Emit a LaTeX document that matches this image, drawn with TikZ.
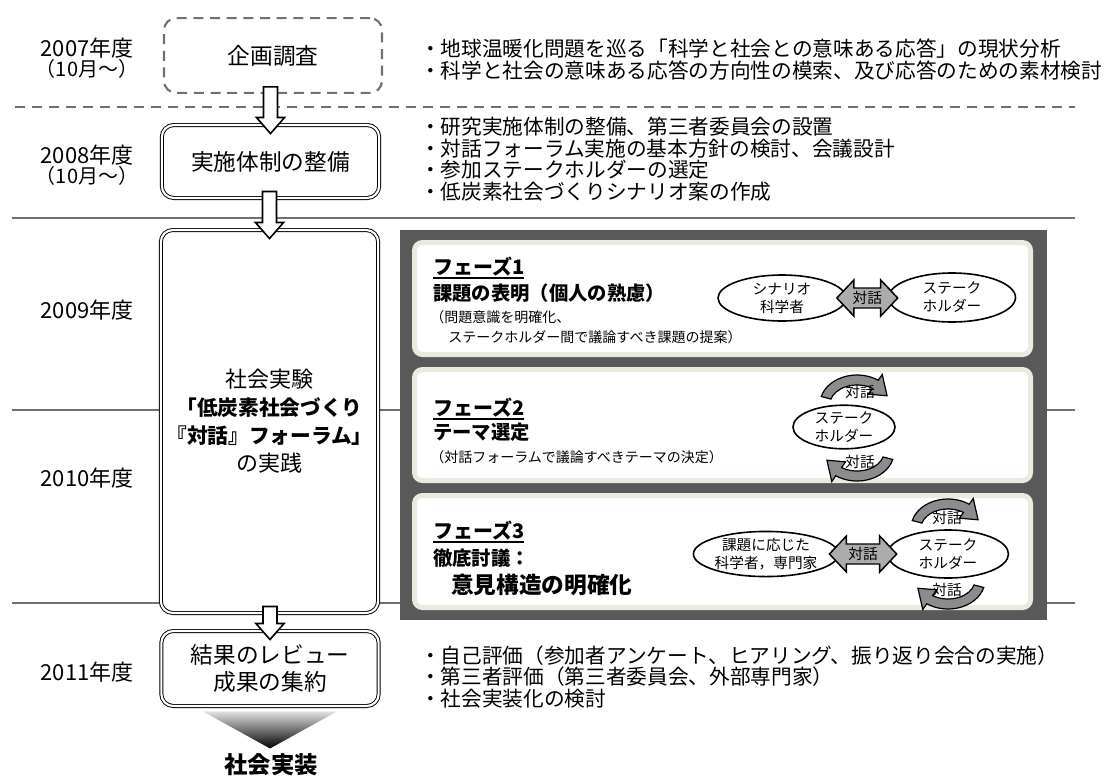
\documentclass[tikz,border=0pt]{standalone}
\usepackage{fontspec}
\setmainfont{Noto Sans CJK JP}
\usepackage{xcolor}
\usepackage{tikz}
\usetikzlibrary{positioning,shapes.geometric,calc}

\definecolor{rulegray}{RGB}{112,112,112}
\definecolor{panelgray}{RGB}{89,89,89}
\definecolor{phaseedge}{RGB}{236,233,222}
\definecolor{talkgray}{RGB}{172,172,172}
\definecolor{loopgray}{RGB}{140,140,140}

\newcommand{\fs}[2]{\fontsize{#1}{#2}\selectfont}
\newcommand{\phaseul}[1]{\setbox0\hbox{#1}\rlap{\rule[-3pt]{\wd0}{1.3pt}}\box0}

\newcommand{\flowarrow}[2]{%
  \draw[flow] ($(#1.south -| #2.north)+(-7,-7)$) -- ($(#2.north)+(-7,-7)$) -- ++(-7,0)
    -- ($(#2.north)+(0,9)$) -- ($(#2.north)+(14,-7)$) -- ++(-7,0)
    -- ($(#1.south -| #2.north)+(7,-7)$) -- cycle;}

\newcommand{\talkarrow}[2]{%
  \path ($(#1.east)+(-10,0)$) coordinate (tl) ($(tl -| #2.west)+(10,0)$) coordinate (tr);
  \draw[talk] (tl) -- ++(17,-18) -- ++(0,8) -- ($(tr)+(-17,-10)$) -- ++(0,-8) -- (tr)
    -- ++(-17,18) -- ++(0,-8) -- ($(tl)+(17,10)$) -- ++(0,8) -- cycle;
  \node[talklabel] (talk#1) at ($(tl)!0.5!(tr)$) {対話};}

\newcommand{\talkloop}[2]{%
  \begin{scope}[shift={#1}, rotate=#2]
    \filldraw[roundtalk] (195:37 and 29) arc[start angle=195, end angle=305, x radius=37, y radius=29]
      -- (305:44 and 36) -- (340:32 and 24) -- (305:20 and 12) -- (305:27 and 19)
      arc[start angle=305, end angle=195, x radius=27, y radius=19] -- cycle;
  \end{scope}}

\begin{document}
\begin{tikzpicture}[
    x=0.75pt, y=-0.75pt,
    rule/.style={rulegray, line width=1.5pt},
    stage/.style={draw, double, double distance=1.6pt, line width=0.7pt, rounded corners=9pt,
                  fill=white, minimum width=163pt, align=center, font=\fs{17}{20}},
    planbox/.style={draw=rulegray, line width=1.6pt, dash pattern=on 7.5pt off 5pt,
                  rounded corners=9pt, minimum width=163.5pt, minimum height=56pt, font=\fs{17}{20}},
    fyear/.style={inner sep=0pt, font=\fs{16.5}{18}},
    fymonth/.style={inner sep=0pt, font=\fs{15}{16}},
    notes/.style={anchor=west, align=left, inner sep=0pt, font=\fs{15.5}{16.1}},
    phase/.style={draw=phaseedge, line width=3.75pt, fill=white, rounded corners=6pt,
                  minimum width=462pt, minimum height=84pt},
    phtitle/.style={anchor=west, inner sep=0pt, font=\bfseries\fs{15}{18}},
    phhead/.style={anchor=west, inner sep=0pt, font=\bfseries\fs{14.5}{18}},
    phnote/.style={anchor=west, align=left, inner sep=0pt, font=\fs{10.5}{15}},
    actor/.style={ellipse, draw, line width=1.2pt, fill=white, inner sep=0pt, align=center,
                  font=\fs{11}{13.5}},
    talk/.style={draw, fill=talkgray, line width=1.1pt, line join=miter},
    talklabel/.style={inner sep=0pt, font=\fs{11}{12}},
    roundtalk/.style={draw, fill=loopgray, line width=0.9pt},
    flow/.style={draw, fill=white, line width=1.2pt}
]
    \useasboundingbox (0,0) rectangle (1104,776);

    \draw[rule, dash pattern=on 7.5pt off 5.25pt] (15,107) -- (1075,107);
    \draw[rule] (12,218) -- (1075,218);
    \draw[rule] (12,410) -- (1075,410);
    \draw[rule] (12,603) -- (1075,603);

    \node[fyear] (fy07) at (87,48) {2007年度};
    \node[fymonth] (fy07m) at (87,69) {（10月～）};
    \node[fyear] (fy08) at (87,155) {2008年度};
    \node[fymonth] (fy08m) at (87,176) {（10月～）};
    \node[fyear] (fy09) at (87,310) {2009年度};
    \node[fyear] (fy10) at (87,478) {2010年度};
    \node[fyear] (fy11) at (87,672) {2011年度};

    \node[planbox] (plan) at (273,55.5) {企画調査};
    \node[stage, minimum height=54.75pt] (setup) at (270.5,161.5) {実施体制の整備};
    \node[stage, minimum height=287.25pt, font=\fs{16.5}{21}] (forum) at (269.5,421.5)
        {社会実験\\{\bfseries\fs{15.5}{21}「低炭素社会づくり}\\{\bfseries\fs{15.5}{21}『対話』フォーラム」}\\の実践};
    \node[stage, minimum height=56.25pt] (review) at (270,668.5) {結果のレビュー\\成果の集約};

    \node[notes] (note07) at (420,59.5)
        {・地球温暖化問題を巡る「科学と社会との意味ある応答」の現状分析\\
         ・科学と社会の意味ある応答の方向性の模索、及び応答のための素材検討};
    \node[notes] (note08) at (420,159)
        {・研究実施体制の整備、第三者委員会の設置\\
         ・対話フォーラム実施の基本方針の検討、会議設計\\
         ・参加ステークホルダーの選定\\
         ・低炭素社会づくりシナリオ案の作成};
    \node[notes] (note11) at (420,677)
        {・自己評価（参加者アンケート、ヒアリング、振り返り会合の実施）\\
         ・第三者評価（第三者委員会、外部専門家）\\
         ・社会実装化の検討};

    \node[fill=panelgray, minimum width=485.25pt, minimum height=292.5pt] (panel) at (723.5,425) {};
    \node[phase] (ph1) at (722.5,298.5) {};
    \node[phase, minimum height=83.25pt] (ph2) at (722.5,425) {};
    \node[phase] (ph3) at (722.5,551.5) {};

    \node[phtitle] (ph1title) at (433,268) {\phaseul{フェーズ1}};
    \node[phhead] (ph1head) at (433,293) {課題の表明（個人の熟慮）};
    \node[phnote] (ph1note) at (430,327)
        {（問題意識を明確化、\\\hspace*{1.3em}ステークホルダー間で議論すべき課題の提案）};
    \node[phtitle] (ph2title) at (433,409) {\phaseul{フェーズ2}};
    \node[phhead] (ph2head) at (433,432) {テーマ選定};
    \node[phnote] (ph2note) at (430,457) {（対話フォーラムで議論すべきテーマの決定）};
    \node[phtitle] (ph3title) at (433,532) {\phaseul{フェーズ3}};
    \node[phhead] (ph3head) at (433,558) {徹底討議：};
    \node[phhead, font=\bfseries\fs{17}{20}] (ph3head2) at (451,585) {意見構造の明確化};

    \node[actor, minimum width=96pt, minimum height=34.5pt] (sc1) at (782,298) {シナリオ\\科学者};
    \node[actor, minimum width=95.25pt, minimum height=36.75pt] (sh1) at (952,297.5) {ステーク\\ホルダー};
    \node[actor, minimum width=76.5pt, minimum height=30pt] (sh2) at (844,427) {ステーク\\ホルダー};
    \node[actor, minimum width=106.5pt, minimum height=30pt] (ex3) at (766,554) {課題に応じた\\科学者，専門家};
    \node[actor, minimum width=90.75pt, minimum height=36pt] (sh3) at (948,554) {ステーク\\ホルダー};

    \talkarrow{sc1}{sh1}
    \talkarrow{ex3}{sh3}

    \talkloop{($(sh2)+(13,-23)$)}{0}
    \talkloop{($(sh2)+(13,25)$)}{180}
    \talkloop{($(sh3)+(0,-26)$)}{0}
    \talkloop{($(sh3)+(0,26)$)}{180}
    \node[talklabel] (loop2a) at ($(sh2)+(16,-35)$) {対話};
    \node[talklabel] (loop2b) at ($(sh2)+(16,35)$) {対話};
    \node[talklabel] (loop3a) at ($(sh3)+(-1,-36)$) {対話};
    \node[talklabel] (loop3b) at ($(sh3)+(-1,36)$) {対話};

    \flowarrow{plan}{setup}
    \flowarrow{setup}{forum}
    \flowarrow{forum}{review}

    \node[font=\bfseries\fs{17.5}{20}] (impl) at (271,765) {社会実装};
    \shade[top color=black!12, bottom color=black] ($(review.south)+(-67,5)$) -- ($(review.south)+(67,5)$)
        -- ($(review.south)+(0,42)$) -- cycle;
\end{tikzpicture}
\end{document}
